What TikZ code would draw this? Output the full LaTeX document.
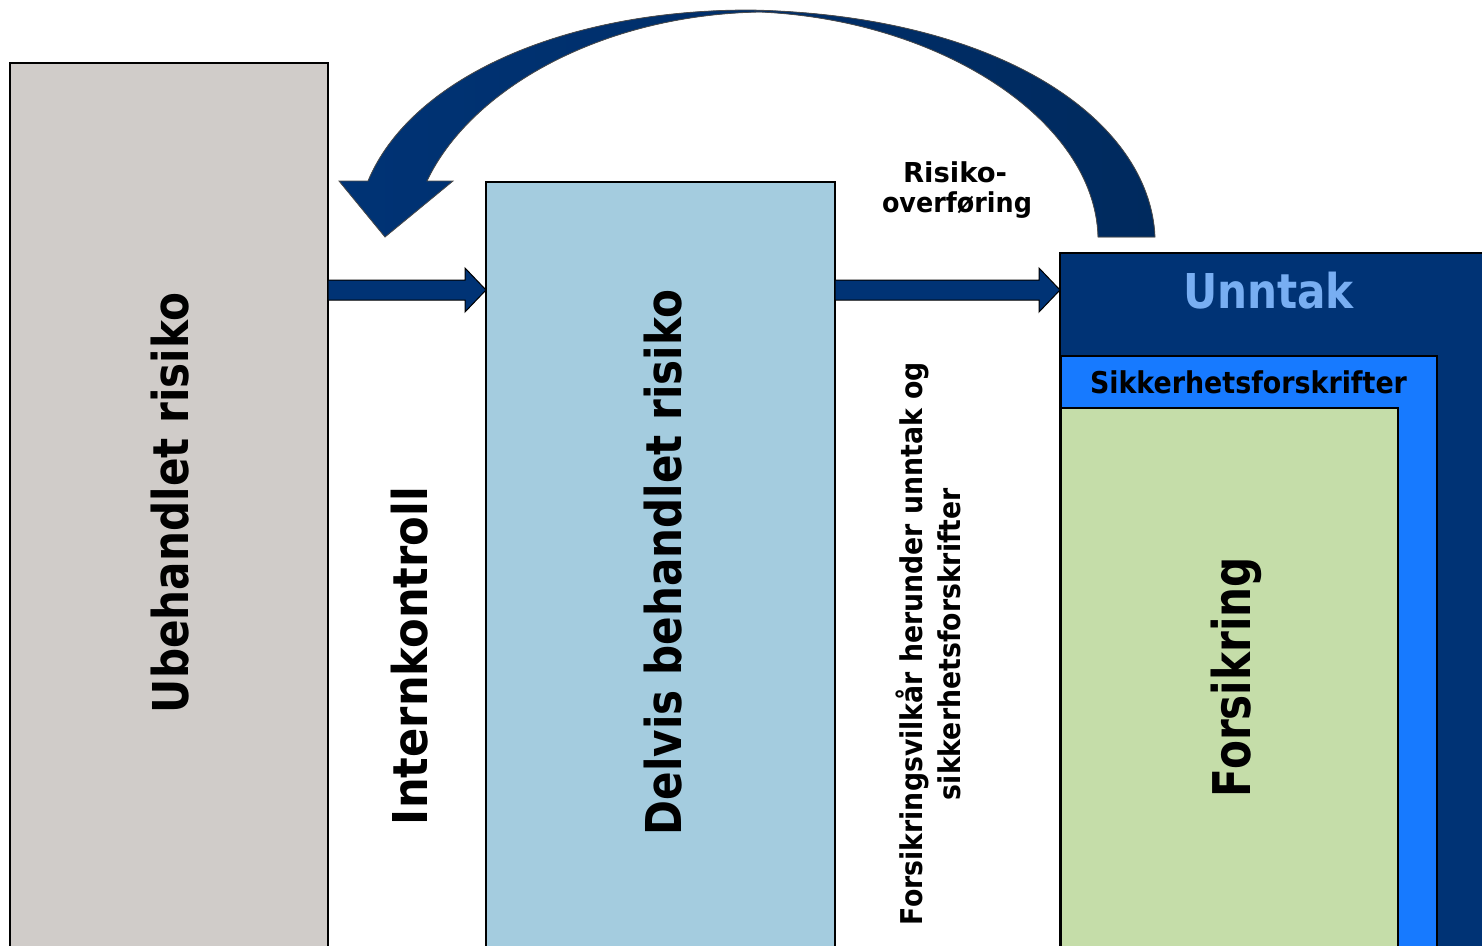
\documentclass[tikz,border=0pt]{standalone}
\usepackage{fontspec}
\setmainfont{DejaVu Sans}
\usepackage{graphicx}
\usetikzlibrary{calc}
\definecolor{greybox}{HTML}{D0CCC9}
\definecolor{lightbox}{HTML}{A4CCDF}
\definecolor{navy}{HTML}{003375}
\definecolor{navydark}{HTML}{002A5E}
\definecolor{brightblue}{HTML}{177AFF}
\definecolor{greenbox}{HTML}{C5DDA9}
\definecolor{unntaktext}{HTML}{78AEF2}
\newcommand\fitt[3]{\resizebox{#1pt}{\height}{\fontsize{#2pt}{#2pt}\selectfont\bfseries #3}}
\newcommand\blockarr[2]{%
  \filldraw[fill=navy,draw=black,line width=1pt]
    ($(#1.east |- ay)+(0,-10)$) -- ($(#2.west |- ay)+(-21,-10)$) -- ($(#2.west |- ay)+(-21,-22)$)
    -- (#2.west |- ay) -- ($(#2.west |- ay)+(-21,22)$) -- ($(#2.west |- ay)+(-21,10)$)
    -- ($(#1.east |- ay)+(0,10)$) -- cycle;}
\begin{document}
\begin{tikzpicture}[x=1pt,y=-1pt,
  box/.style={draw=black,line width=1.2pt,inner sep=0pt,outer sep=0pt,anchor=north west},
  txt/.style={inner sep=0pt,outer sep=0pt,anchor=base,text=black}]
\clip (0,0) rectangle (1482,945);
\fill[white] (0,0) rectangle (1482,945);
% boxes
\node[box,fill=greybox,minimum width=318pt,minimum height=900pt] (grey) at (10,63) {};
\node[box,fill=lightbox,minimum width=349pt,minimum height=780pt] (delvis) at (486,182) {};
\node[box,fill=navy,minimum width=440pt,minimum height=720pt] (unntak) at (1060,253) {};
\node[box,fill=brightblue,minimum width=376pt,minimum height=620pt] (sikk) at (1061,356) {};
\node[box,fill=greenbox,minimum width=337pt,minimum height=560pt] (fors) at (1061,408) {};
% straight block arrows
\coordinate (ay) at (0,290);
\blockarr{grey}{delvis}
\blockarr{delvis}{unntak}
% curved arrow
\coordinate (cstart) at (1155,237);
\coordinate (ctip) at (385,237);
\filldraw[left color=navy,right color=navydark,draw=black!70,line width=0.8pt]
  (cstart) .. controls (1150,120) and (1000,15) .. (750,10)
  .. controls (560,10) and (410,80) .. (368,181)
  -- (339,181) -- (ctip) -- (453,181) -- (427,181)
  .. controls (470,90) and (600,15) .. (760,12)
  .. controls (940,20) and (1095,120) .. (1098,237) -- cycle;
% texts
\node[txt,rotate=90] (t1) at (188,503) {\fitt{420}{49.4}{Ubehandlet risiko}};
\node[txt,rotate=90] (t2) at (427,656) {\fitt{338}{48}{Internkontroll}};
\node[txt,rotate=90] (t3) at (681,562.5) {\fitt{545}{49.4}{Delvis behandlet risiko}};
\node[txt,rotate=90] (t4) at (1250,677) {\fitt{240}{52}{Forsikring}};
\node[txt,text=unntaktext] (t5) at (1268.5,308) {\fitt{171}{48}{Unntak}};
\node[txt] (t6) at (1248.5,393) {\fitt{317}{30}{Sikkerhetsforskrifter}};
\node[txt] (t7) at (955,182) {\fitt{104}{27.4}{Risiko-}};
\node[txt] (t8) at (957,212) {\fitt{150}{27.4}{overføring}};
\node[txt,rotate=90] (t9) at (922,643.5) {\fitt{563}{30}{Forsikringsvilkår herunder unntak og}};
\node[txt,rotate=90] (t10) at (960,644) {\fitt{312}{30}{sikkerhetsforskrifter}};
\end{tikzpicture}
\end{document}
